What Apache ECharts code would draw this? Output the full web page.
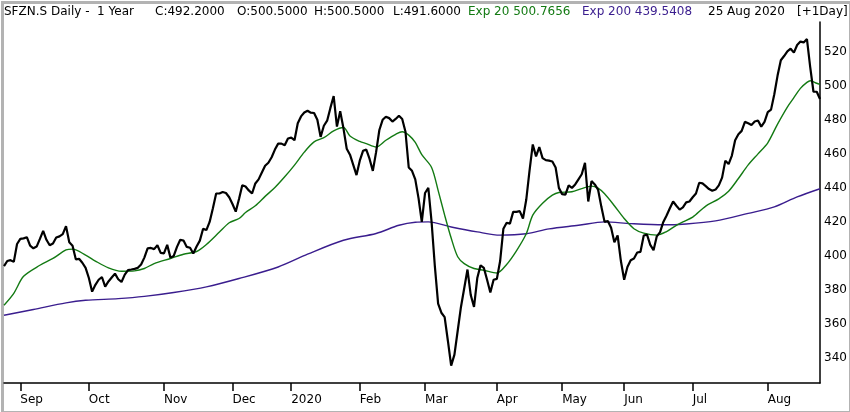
<!DOCTYPE html>
<html>
<head>
<meta charset="utf-8">
<script src="https://cdn.jsdelivr.net/npm/echarts@6/dist/echarts.min.js"></script>
<style>
  html, body { margin: 0; padding: 0; background: #fff; }
  #chart { width: 850px; height: 412px; }
</style>
</head>
<body>
<div id="chart"></div>
<script>
(function() {
    'use strict';

    // trading calendar (SIX) for the year shown
    var startDay = '2019-08-26';
    var endDay = '2020-08-25';
    var holidays = ['2019-12-24', '2019-12-25', '2019-12-26', '2019-12-31',
        '2020-01-01', '2020-01-02', '2020-04-10', '2020-04-13',
        '2020-05-01', '2020-05-21', '2020-06-01'];
    var monthNames = ['Jan', 'Feb', 'Mar', 'Apr', 'May', 'Jun',
        'Jul', 'Aug', 'Sep', 'Oct', 'Nov', 'Dec'];

    // daily close, one value per trading day
    var closeValues = [
        394, 397, 397.5, 396.5, 407, 410, 410.3, 411, 406, 404.5,
        405.5, 410, 414.7, 409.5, 406.3, 407.3, 410.8, 411.5, 412.8, 417.5,
        408, 406, 398, 398.3, 396, 393, 387, 379, 383, 386,
        387.6, 382, 385, 387.3, 389.6, 386.3, 384.7, 389, 391.7, 392,
        392.4, 393, 395, 399, 404.4, 404.7, 404, 406.3, 401.8, 401.5,
        406.5, 399, 400, 405.3, 409.5, 409, 405.3, 404.8, 401.4, 405.5,
        409, 416, 415.2, 420, 428, 436.7, 436.7, 437.6, 437, 434.5,
        430.5, 426, 433.5, 441.6, 440.8, 438.5, 436.7, 442.6, 445, 449,
        453, 454.8, 458, 462.5, 466, 466, 465, 469, 469.5, 468,
        478, 482, 484.3, 485.3, 484.2, 484, 480, 470, 476.5, 479.5,
        487, 494, 476, 485, 475, 463, 459.5, 453.5, 447.5, 456,
        461.8, 462.5, 457, 450, 461, 474, 480, 481.8, 481, 479,
        480.5, 482.4, 480.5, 473, 452, 450, 445, 434, 420, 437,
        440, 420, 394, 372, 366.6, 364, 350, 335.5, 342, 356,
        370, 381, 392, 377, 370, 387, 394.5, 393, 386, 378.5,
        386, 386.5, 397, 416, 419.5, 419, 425.9, 425.9, 426.3, 422,
        433, 450, 465.5, 458.5, 464, 457.5, 456.3, 456, 455.5, 452,
        440, 436.3, 436, 441.5, 440, 442, 445, 448, 454.7, 432,
        444, 442, 439, 429, 420, 420.5, 416.5, 408, 412, 397,
        386, 393.5, 397.5, 398.5, 402, 402.4, 412, 412.5, 406.5, 403.4,
        411.5, 414, 420, 423.8, 428, 432, 429.5, 427.2, 428.5, 431.5,
        432, 434.5, 436.7, 443, 442.6, 441, 439.3, 438.3, 439, 441.5,
        446, 456, 454, 459, 468, 471.5, 473.5, 478.8, 478, 477,
        479, 479.6, 476, 478.8, 484.5, 486, 495, 506, 515, 517.5,
        520.3, 521.8, 519.5, 524, 526, 525.5, 527.5, 511, 496.5, 496.5,
        492.2
    ];

    // Exp 20, read as [trading day index, value]
    var ema20Points = [
        [0, 371], [3, 378], [6, 388], [11, 394.5], [15, 398.5], [19, 403.5],
        [21, 404], [25, 400.5], [28, 397], [32, 393], [36, 391], [40, 391.2],
        [43, 392.6], [46, 395.5], [51, 398.5], [55, 401], [59, 402.6], [62, 406.7],
        [66, 414], [69, 419.5], [72, 422], [74, 425.5], [77, 429.5], [80, 435],
        [83, 440.2], [86, 446.5], [89, 453.4], [92, 461], [95, 467], [98, 469.5],
        [101, 473.5], [104, 475.5], [106, 470.5], [109, 467.3], [111, 466], [114, 464],
        [117, 468], [120, 471.5], [122, 473], [124, 471], [126, 466.7], [128, 459.5],
        [131, 452], [133, 438.5], [135, 424], [137, 410.5], [139, 399.5], [141, 395.5],
        [144, 392.6], [147, 391.6], [151, 390], [154, 395], [157, 403], [160, 413],
        [162, 424], [165, 431], [168, 435.7], [170, 437.3], [174, 437.7], [177, 439.6],
        [180, 441], [182, 439.8], [184, 436.5], [187, 429.5], [190, 422], [193, 416],
        [196, 413.4], [200, 412.2], [203, 414.3], [206, 418], [208, 420], [211, 422.8],
        [215, 429.3], [219, 433.5], [222, 438], [225, 445.5], [228, 453.5], [231, 460],
        [234, 466.5], [237, 477.5], [240, 487.5], [242, 493], [244, 498.5], [246, 502],
        [247, 503], [249, 501.5], [250, 500.8]
    ];

    // Exp 200, read as [trading day index, value]
    var ema200Points = [
        [0, 365.1], [9, 368.5], [19, 372.4], [25, 373.9], [35, 374.9], [43, 376.2],
        [52, 378.5], [62, 381.8], [72, 386.7], [84, 393.5], [93, 401], [104, 409.2],
        [114, 413.2], [121, 418], [126, 419.8], [130, 420], [137, 417], [145, 414.1],
        [152, 412.2], [160, 413], [167, 415.9], [176, 418], [184, 420], [192, 419],
        [202, 418.3], [209, 418.8], [218, 420.6], [228, 425], [236, 428.8], [243, 434.7],
        [250, 439.5]
    ];

    var yMin = 325.3;
    var yMax = 537.5;

    function pad(n) { return n < 10 ? '0' + n : '' + n; }

    function tradingDays(from, to, closed) {
        var out = [];
        var d = new Date(from + 'T00:00:00Z');
        var last = new Date(to + 'T00:00:00Z');
        while (d <= last) {
            var key = d.getUTCFullYear() + '-' + pad(d.getUTCMonth() + 1) + '-' + pad(d.getUTCDate());
            var wd = d.getUTCDay();
            if (wd !== 0 && wd !== 6 && closed.indexOf(key) < 0) {
                out.push(key);
            }
            d.setUTCDate(d.getUTCDate() + 1);
        }
        return out;
    }

    var days = tradingDays(startDay, endDay, holidays);

    // first trading day of each month
    function isMonthStart(index) {
        if (index === 0) return false;
        return days[index].slice(5, 7) !== days[index - 1].slice(5, 7);
    }

    function monthLabel(value) {
        var m = parseInt(value.slice(5, 7), 10) - 1;
        return m === 0 ? value.slice(0, 4) : monthNames[m];
    }

    var font = 'DejaVu Sans';
    var green = '#137a13';
    var purple = '#3a1d8e';

    function headerText(text, left, color) {
        return {
            type: 'text',
            left: left,
            top: 6,
            style: { text: text, fill: color, fontSize: 12, fontFamily: font }
        };
    }

    var chart = echarts.init(document.getElementById('chart'));

    chart.setOption({
        animation: false,
        backgroundColor: '#fff',
        grid: { left: 4, right: 30, top: 22, bottom: 29 },
        xAxis: {
            type: 'category',
            data: days,
            boundaryGap: false,
            axisLine: { lineStyle: { color: '#000', width: 1.5 } },
            axisTick: {
                interval: isMonthStart,
                length: 8,
                lineStyle: { color: '#000', width: 1.5 }
            },
            axisLabel: {
                interval: isMonthStart,
                formatter: monthLabel,
                align: 'left',
                margin: 11,
                color: '#000',
                fontSize: 12,
                fontFamily: font
            },
            splitLine: { show: false }
        },
        yAxis: {
            type: 'value',
            position: 'right',
            min: yMin,
            max: yMax,
            splitNumber: 10,
            axisLine: { show: true, lineStyle: { color: '#000', width: 1.5 } },
            axisTick: { show: false },
            splitLine: { show: false },
            axisLabel: {
                margin: 4,
                color: '#000',
                fontSize: 12,
                fontFamily: font,
                showMinLabel: false,
                showMaxLabel: false,
                formatter: function(v) {
                    return Math.abs(v % 20) < 1e-6 ? String(v) : '';
                }
            }
        },
        series: [
            {
                name: 'Exp 200',
                type: 'line',
                data: ema200Points,
                smooth: 0.3,
                symbol: 'none',
                lineStyle: { color: purple, width: 1.4 },
                z: 2
            },
            {
                name: 'Exp 20',
                type: 'line',
                data: ema20Points,
                smooth: 0.3,
                symbol: 'none',
                lineStyle: { color: green, width: 1.4 },
                z: 3
            },
            {
                name: 'SFZN.S',
                type: 'line',
                data: closeValues,
                symbol: 'none',
                lineStyle: { color: '#000', width: 2.2 },
                z: 4
            }
        ],
        graphic: [
            {
                type: 'rect',
                left: 0,
                top: 0,
                shape: { x: 1, y: 1, width: 848, height: 410 },
                style: { fill: 'none', stroke: '#b3b3b3', lineWidth: 3 },
                silent: true
            },
            headerText('SFZN.S Daily -  1 Year', 4, '#000'),
            headerText('C:492.2000', 155, '#000'),
            headerText('O:500.5000', 237, '#000'),
            headerText('H:500.5000', 314, '#000'),
            headerText('L:491.6000', 393, '#000'),
            headerText('Exp 20 500.7656', 468, green),
            headerText('Exp 200 439.5408', 582, purple),
            headerText('25 Aug 2020', 708, '#000'),
            headerText('[+1Day]', 797, '#000')
        ]
    });

    window.addEventListener('resize', chart.resize);
})();
</script>
</body>
</html>
